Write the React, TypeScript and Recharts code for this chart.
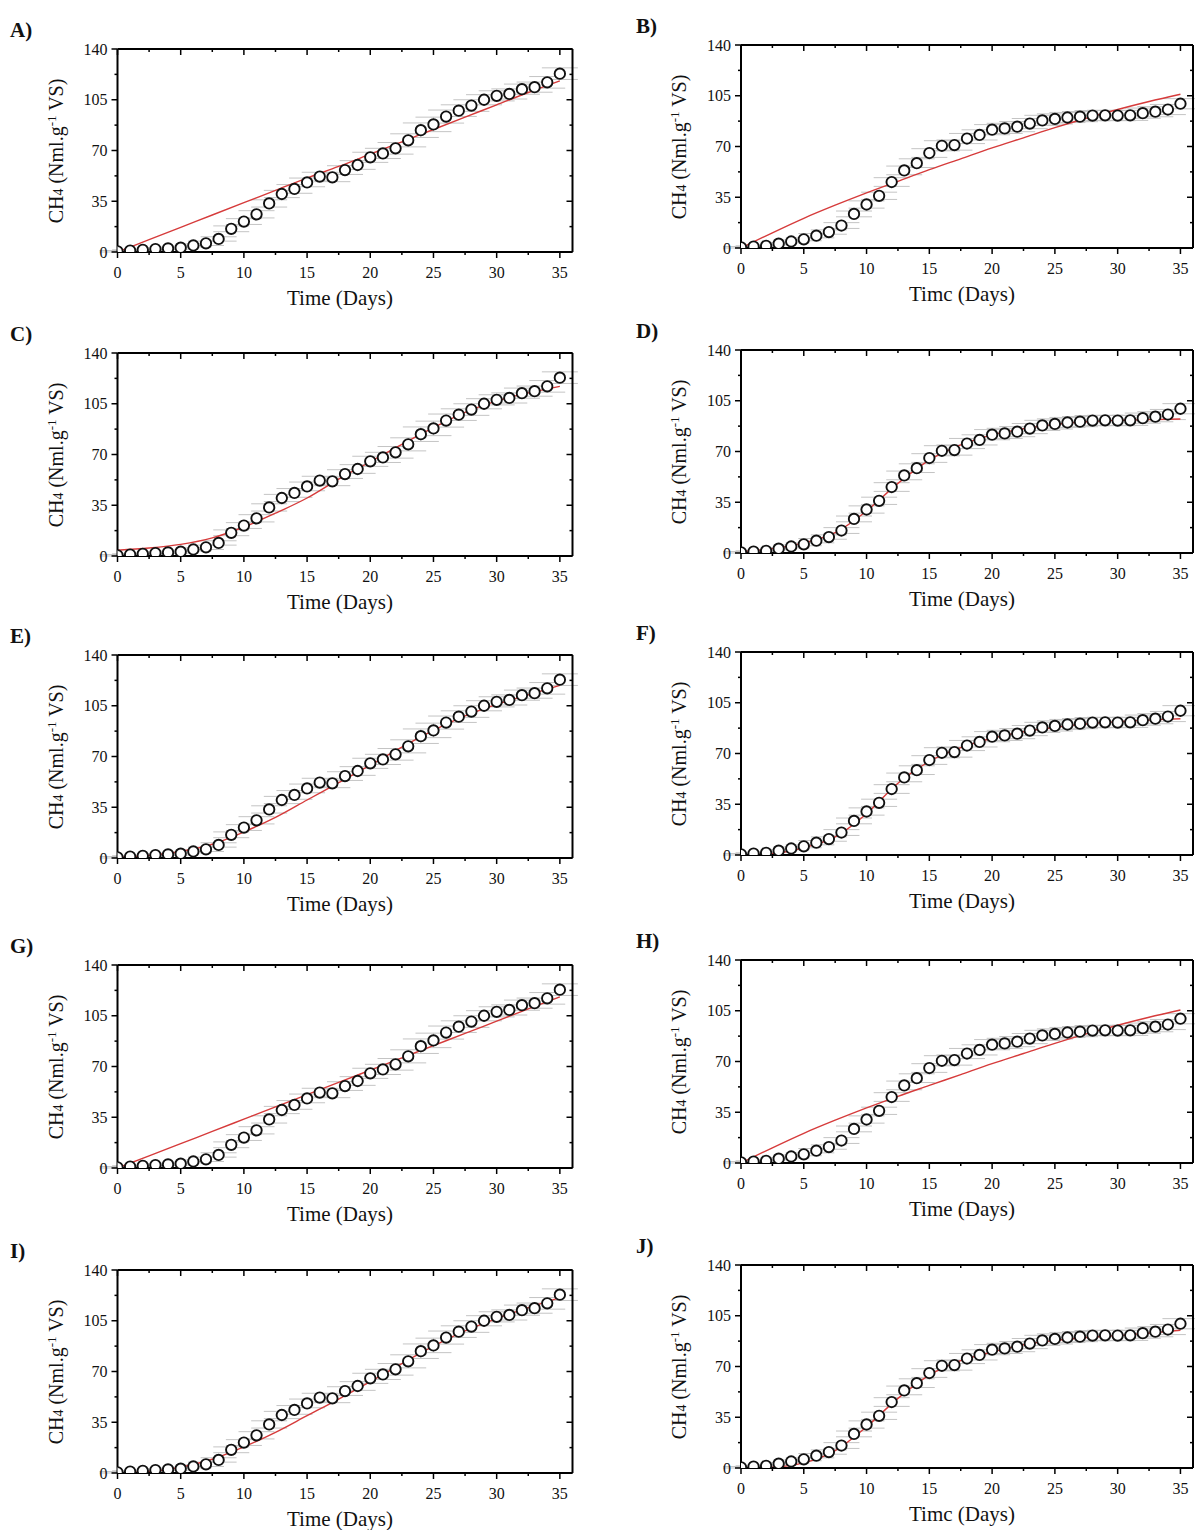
import React from 'react'
import { ComposedChart, Scatter, Line, XAxis, YAxis, ErrorBar } from 'recharts'

// measured cumulative CH4 (one point per day)
const days = [0, 1, 2, 3, 4, 5, 6, 7, 8, 9, 10, 11, 12, 13, 14, 15, 16, 17, 18, 19, 20, 21, 22, 23, 24, 25, 26, 27, 28, 29, 30, 31, 32, 33, 34, 35]
const measuredLeft = [0.5, 1, 1.5, 2, 2.5, 3, 4.5, 6, 9, 16, 21, 26, 33.5, 40, 43.5, 48, 52, 51.5, 56.5, 60, 65.3, 68, 71.5, 77, 84, 88, 93.4, 97.5, 101, 105, 107.7, 109, 112.3, 113.7, 117, 123]
const errorLeft = [0.5, 0.5, 0.5, 0.8, 0.8, 1, 1, 1.5, 1.5, 2, 2, 2.5, 2.5, 2.5, 3, 3, 3, 3, 3, 3, 3.5, 3.5, 4, 4.5, 5, 5, 4.5, 4, 4, 3.5, 3.5, 3.5, 3.5, 3.5, 4, 4]
const measuredRight = [0.5, 1, 1.5, 3, 4.5, 6, 8.5, 11, 15.5, 23.5, 30, 36, 45.5, 53.5, 58.5, 65.5, 70.5, 71, 75.5, 78, 81.6, 82.5, 83.7, 85.8, 88, 89, 90, 90.6, 91.3, 91.5, 91.3, 91.5, 93, 94, 95.5, 99.5]
const errorRight = [0.5, 0.5, 0.5, 0.8, 1, 1, 1.5, 1.5, 2, 2, 2.5, 2.5, 3, 3, 3, 3, 3.5, 3.5, 3.5, 3.5, 3.5, 3.5, 3.5, 3.5, 3.5, 3.5, 3.5, 3.5, 3.5, 3.5, 3.5, 3.5, 3.5, 3.5, 3.5, 3.5]

// fitted model curves, read every 2.5 days
const fitDays = [0, 2.5, 5, 7.5, 10, 12.5, 15, 17.5, 20, 22.5, 25, 27.5, 30, 32.5, 35]
const fitA = [0, 8.5, 17, 25.5, 34, 42.5, 51, 59, 67.5, 76, 84.5, 93, 101.5, 110, 118]
const fitB = [0, 10.5, 20.5, 29.5, 38, 46, 54, 61.5, 69, 76, 83, 89.5, 95.5, 101, 106]
const fitC = [4, 5.5, 8, 12.5, 20, 29.5, 40, 53, 65, 77, 88.5, 99, 107, 112.5, 117]
const fitD = [1, 3, 7, 14, 29, 48, 64, 74.5, 81.5, 85.7, 88.7, 90.5, 91.5, 92, 92.4]
const fitE = [0.5, 1.8, 4.5, 9.5, 18, 28, 40, 52, 64, 76.5, 88, 98, 106, 112.5, 119]
const fitF = [0, 1, 5, 12.5, 28.5, 49.5, 64.5, 74, 80.5, 85, 88, 90.3, 92, 93, 94]
const fitG = [0, 8.3, 16.8, 25.2, 33.7, 42.2, 50.6, 59, 67.5, 76, 84.4, 92.8, 101.3, 109.7, 118]
const fitH = [0, 10.5, 20.5, 29.5, 38, 46, 53.5, 61, 68.5, 75.5, 82.5, 89, 95, 100.5, 105.5]
const fitI = [0, 1, 4, 9.5, 18, 28, 39.5, 51, 63, 75.5, 87.5, 98, 106.5, 114, 121]
const fitJ = [0, 0.5, 3.5, 12, 28.5, 48, 64, 74, 80, 85, 88, 90, 91.3, 93, 95]

const xTicks = [0, 2.5, 5, 7.5, 10, 12.5, 15, 17.5, 20, 22.5, 25, 27.5, 30, 32.5, 35]
const yTicks = [0, 17.5, 35, 52.5, 70, 87.5, 105, 122.5, 140]

const FONT = '"Liberation Serif", "Times New Roman", serif'
const RED = '#d63b3b'

const leftPoints = days.map((d, i) => ({ x: d, y: measuredLeft[i], err: errorLeft[i] }))
const rightPoints = days.map((d, i) => ({ x: d, y: measuredRight[i], err: errorRight[i] }))
const toFit = (vals: number[]) => fitDays.map((d, i) => ({ x: d, fit: vals[i] }))

const isMajorX = (v: number) => v % 5 === 0
const isMajorY = (v: number) => v % 35 === 0

function BottomTick({ x, y, payload }: any) {
  const major = isMajorX(payload.value)
  return (
    <g>
      <line x1={x} y1={y} x2={x} y2={y + (major ? 6 : 3)} stroke="#000" strokeWidth={1.5} />
      {major && (
        <text x={x} y={y + 26} textAnchor="middle" fontFamily={FONT} fontSize={16} fill="#111">
          {payload.value}
        </text>
      )}
    </g>
  )
}

function TopTick({ x, y, payload }: any) {
  const major = isMajorX(payload.value)
  return <line x1={x} y1={y} x2={x} y2={y + (major ? 6 : 3)} stroke="#000" strokeWidth={1.5} />
}

function LeftTick({ x, y, payload }: any) {
  const major = isMajorY(payload.value)
  return (
    <g>
      <line x1={x} y1={y} x2={x - (major ? 6 : 3)} y2={y} stroke="#000" strokeWidth={1.5} />
      {major && (
        <text x={x - 10} y={y + 5.5} textAnchor="end" fontFamily={FONT} fontSize={16} fill="#111">
          {payload.value}
        </text>
      )}
    </g>
  )
}

function RightTick({ x, y, payload }: any) {
  const major = isMajorY(payload.value)
  return <line x1={x} y1={y} x2={x - (major ? 6 : 3)} y2={y} stroke="#000" strokeWidth={1.5} />
}

const circle = (p: any) => (
  <circle cx={p.cx} cy={p.cy} r={5.2} fill="#fff" stroke="#111" strokeWidth={1.9} />
)

interface PanelProps {
  letter: string
  side: 'left' | 'right'
  plotTop: number
  fit: number[]
  xLabel: string
}

function Panel({ letter, side, plotTop, fit, xLabel }: PanelProps) {
  const isLeft = side === 'left'
  const chartLeft = isLeft ? 0 : 600
  const width = isLeft ? 590 : 595
  const axisW = isLeft ? 117.5 : 141
  const rightM = isLeft ? 16.5 : 1
  const plotH = 203
  const height = 290
  const plotLeft = chartLeft + axisW
  const plotW = width - axisW - rightM - 1
  const points = isLeft ? leftPoints : rightPoints
  const fitData = toFit(fit)

  return (
    <>
      <div
        style={{
          position: 'absolute', left: isLeft ? 10 : 636, top: plotTop - 30,
          fontFamily: FONT, fontWeight: 'bold', fontSize: 21, lineHeight: '22px', color: '#111',
        }}
      >
        {letter})
      </div>
      <div
        style={{
          position: 'absolute', left: isLeft ? 56 : 679, top: plotTop + plotH / 2,
          transform: 'translate(-50%, -50%) rotate(-90deg)', whiteSpace: 'nowrap',
          fontFamily: FONT, fontSize: 20, color: '#111',
        }}
      >
        CH<span style={{ fontSize: 14 }}>4</span> (Nml.g<sup style={{ fontSize: 13 }}>-1</sup> VS)
      </div>
      <div
        style={{
          position: 'absolute', left: plotLeft + plotW / 2 - 5, top: plotTop + plotH + 46,
          transform: 'translate(-50%, -50%)', whiteSpace: 'nowrap',
          fontFamily: FONT, fontSize: 21, color: '#111',
        }}
      >
        {xLabel}
      </div>
      <div style={{ position: 'absolute', left: chartLeft, top: plotTop - 10 }}>
        <ComposedChart
          width={width}
          height={height}
          margin={{ top: 9, right: rightM, bottom: 0, left: 0 }}
        >
          <XAxis
            xAxisId="b" dataKey="x" type="number" domain={[0, 36]} ticks={xTicks} interval={0}
            height={height - 10 - plotH} tickSize={0} tickMargin={0} tickLine={false}
            stroke="#000" strokeWidth={2} tick={<BottomTick />} allowDataOverflow
          />
          <XAxis
            xAxisId="t" dataKey="x" orientation="top" type="number" domain={[0, 36]} ticks={xTicks} interval={0}
            height={1} tickSize={0} tickMargin={0} tickLine={false}
            stroke="#000" strokeWidth={2} tick={<TopTick />} allowDataOverflow
          />
          <YAxis
            yAxisId="l" type="number" domain={[0, 140]} ticks={yTicks} interval={0}
            width={axisW} tickSize={0} tickMargin={0} tickLine={false}
            stroke="#000" strokeWidth={2} tick={<LeftTick />} allowDataOverflow
          />
          <YAxis
            yAxisId="r" orientation="right" type="number" domain={[0, 140]} ticks={yTicks} interval={0}
            width={1} tickSize={0} tickMargin={0} tickLine={false}
            stroke="#000" strokeWidth={2} tick={<RightTick />} allowDataOverflow
          />
          <Scatter
            xAxisId="b" yAxisId="l" data={points} dataKey="y" shape={circle}
            isAnimationActive={false}
          >
            <ErrorBar dataKey="err" direction="y" width={18} stroke="#c4c4c4" strokeWidth={1} />
          </Scatter>
          <Line
            xAxisId="b" yAxisId="l" data={fitData} dataKey="fit" type="monotone"
            stroke={RED} strokeWidth={1.4} dot={false} activeDot={false} isAnimationActive={false}
          />
          {/* invisible copy so the mirrored top/right axes get drawn */}
          <Line
            xAxisId="t" yAxisId="r" data={fitData} dataKey="fit" stroke="none"
            dot={false} activeDot={false} legendType="none" isAnimationActive={false}
          />
        </ComposedChart>
      </div>
    </>
  )
}

export default function App() {
  return (
    <div style={{ position: 'absolute', left: 0, top: 0, width: 1195, height: 1530, background: '#fff' }}>
      <Panel letter="A" side="left" plotTop={49} fit={fitA} xLabel="Time (Days)" />
      <Panel letter="B" side="right" plotTop={45} fit={fitB} xLabel="Timc (Days)" />
      <Panel letter="C" side="left" plotTop={353} fit={fitC} xLabel="Time (Days)" />
      <Panel letter="D" side="right" plotTop={350} fit={fitD} xLabel="Time (Days)" />
      <Panel letter="E" side="left" plotTop={655} fit={fitE} xLabel="Time (Days)" />
      <Panel letter="F" side="right" plotTop={652} fit={fitF} xLabel="Time (Days)" />
      <Panel letter="G" side="left" plotTop={965} fit={fitG} xLabel="Time (Days)" />
      <Panel letter="H" side="right" plotTop={960} fit={fitH} xLabel="Time (Days)" />
      <Panel letter="I" side="left" plotTop={1270} fit={fitI} xLabel="Time (Days)" />
      <Panel letter="J" side="right" plotTop={1265} fit={fitJ} xLabel="Timc (Days)" />
    </div>
  )
}
